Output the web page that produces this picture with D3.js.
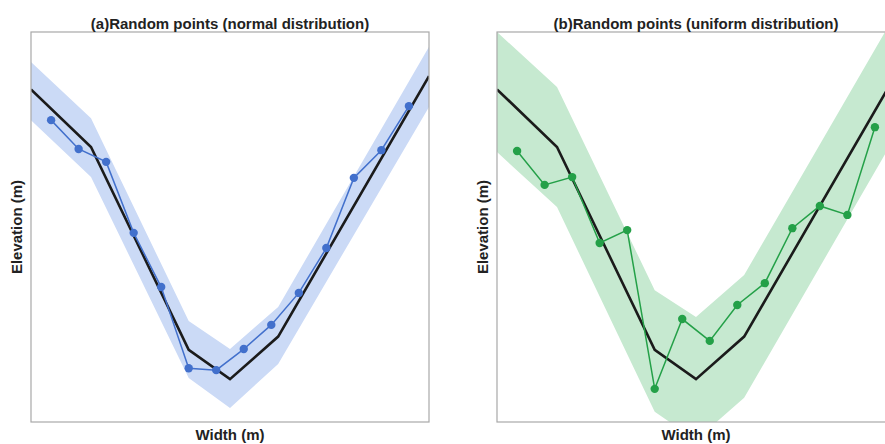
<!DOCTYPE html>
<html>
<head>
<meta charset="utf-8">
<script src="https://cdn.jsdelivr.net/npm/d3@7"></script>
<style>
  html, body { margin: 0; padding: 0; background: #fff; }
  svg { display: block; }
  text { font-family: "Liberation Sans", Arial, sans-serif; font-weight: bold; fill: #222; }
</style>
</head>
<body>
<svg id="chart" width="885" height="444"></svg>
<script>
// ---- data ----
const titles = ["(a)Random points (normal distribution)", "(b)Random points (uniform distribution)"];
const xLabel = "Width (m)";
const yLabel = "Elevation (m)";

// true cross-section profile (vertices)
const profileX = [0.27, 2.45, 6.0, 7.5, 9.25, 14.73];
const profileY = [8.53, 7.05, 1.85, 1.10, 2.19, 8.87];

// uncertainty envelopes at profile vertices
const bandNormalUpper = [9.23, 7.79, 2.59, 1.87, 2.95, 9.62];
const bandNormalLower = [7.74, 6.28, 1.13, 0.36, 1.49, 8.08];
const bandUniformUpper = [10.0, 8.59, 3.38, 2.69, 3.77, 10.44];
const bandUniformLower = [6.92, 5.51, 0.26, -0.46, 0.62, 7.31];

// sampled random points
const pointX = [1, 2, 3, 4, 5, 6, 7, 8, 9, 10, 11, 12, 13, 14];
const pointsNormal = [7.74, 7.00, 6.67, 4.85, 3.46, 1.38, 1.33, 1.87, 2.49, 3.31, 4.46, 6.26, 6.97, 8.10];
const pointsUniform = [6.95, 6.08, 6.28, 4.59, 4.92, 0.85, 2.64, 2.08, 3.00, 3.56, 4.97, 5.54, 5.31, 7.56];

const xDomain = [0.27, 14.73];
const yDomain = [0, 10];

// ---- layout ----
const panelW = 398, panelH = 390, panelTop = 32;
const panelLefts = [31, 497];
const styles = [
  { upper: bandNormalUpper, lower: bandNormalLower, pts: pointsNormal, band: "#cbdaf6", color: "#4270cc" },
  { upper: bandUniformUpper, lower: bandUniformLower, pts: pointsUniform, band: "#c6e9d0", color: "#24a048" }
];

const svg = d3.select("#chart");
const x = d3.scaleLinear().domain(xDomain).range([0, panelW]);
const y = d3.scaleLinear().domain(yDomain).range([panelH, 0]);

styles.forEach((s, i) => {
  const g = svg.append("g").attr("transform", `translate(${panelLefts[i]},${panelTop})`);
  const clipId = "clip" + i;
  g.append("clipPath").attr("id", clipId)
    .append("rect").attr("x", 0).attr("y", 0).attr("width", panelW).attr("height", panelH);

  const plot = g.append("g").attr("clip-path", `url(#${clipId})`);

  const bandData = profileX.map((xv, k) => ({ x: xv, lo: s.lower[k], hi: s.upper[k] }));
  plot.append("path")
    .datum(bandData)
    .attr("fill", s.band)
    .attr("d", d3.area().x(d => x(d.x)).y0(d => y(d.lo)).y1(d => y(d.hi)));

  const prof = profileX.map((xv, k) => [xv, profileY[k]]);
  plot.append("path")
    .datum(prof)
    .attr("fill", "none")
    .attr("stroke", "#1b1b1b")
    .attr("stroke-width", 2.6)
    .attr("stroke-linejoin", "miter")
    .attr("d", d3.line().x(d => x(d[0])).y(d => y(d[1])));

  const pts = pointX.map((xv, k) => [xv, s.pts[k]]);
  plot.append("path")
    .datum(pts)
    .attr("fill", "none")
    .attr("stroke", s.color)
    .attr("stroke-width", 1.5)
    .attr("d", d3.line().x(d => x(d[0])).y(d => y(d[1])));

  plot.selectAll("circle.pt").data(pts).enter().append("circle")
    .attr("class", "pt")
    .attr("cx", d => x(d[0])).attr("cy", d => y(d[1]))
    .attr("r", 4.2)
    .attr("fill", s.color);

  // frame
  g.append("rect")
    .attr("x", 0).attr("y", 0).attr("width", panelW).attr("height", panelH)
    .attr("fill", "none").attr("stroke", "#a8a8a8").attr("stroke-width", 1.2);

  // titles and labels
  g.append("text")
    .attr("x", panelW / 2).attr("y", -3)
    .attr("text-anchor", "middle")
    .style("font-size", "15px")
    .text(titles[i]);

  g.append("text")
    .attr("x", panelW / 2).attr("y", panelH + 18)
    .attr("text-anchor", "middle")
    .style("font-size", "15px")
    .text(xLabel);

  g.append("text")
    .attr("transform", `translate(-9,${panelH / 2}) rotate(-90)`)
    .attr("text-anchor", "middle")
    .style("font-size", "15px")
    .text(yLabel);
});
</script>
</body>
</html>
